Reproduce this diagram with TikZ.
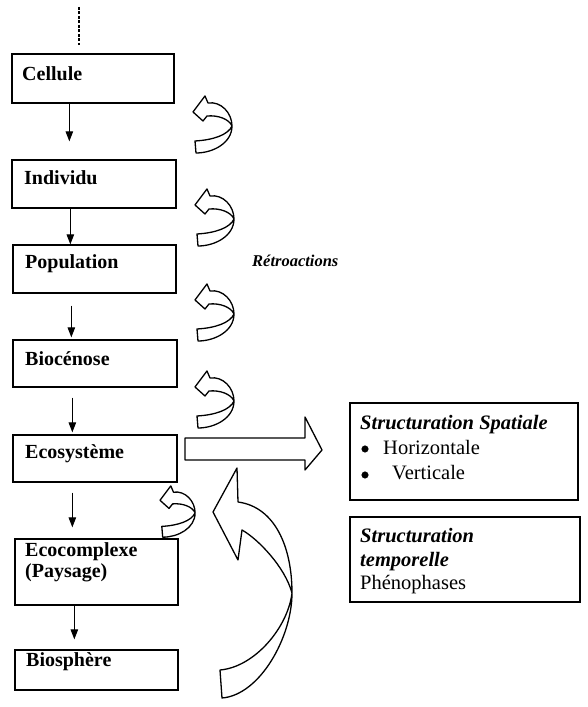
\documentclass[tikz,border=0pt]{standalone}
\usepackage{fontspec}
\setmainfont{Liberation Serif}
\usetikzlibrary{arrows.meta}
\begin{document}
\begin{tikzpicture}[x=1pt,y=1pt,
  box/.style={draw, line width=1.3pt, inner sep=0pt},
  lbl/.style={font=\fontsize{20}{24}\selectfont\bfseries, inner sep=0pt, anchor=base west},
  rtxt/.style={font=\fontsize{20.5}{24}\selectfont, inner sep=0pt, anchor=base west},
  bul/.style={circle, fill, draw, line width=0.5pt, inner sep=0pt, minimum size=6.5pt},
  rbtxt/.style={font=\fontsize{20.5}{24}\selectfont\bfseries\itshape, inner sep=0pt, anchor=base west},
  down/.style={line width=1pt, -{Triangle[width=7.5pt,length=10pt]}},
  blockarrow/.style={line width=1.3pt, fill=white, line join=round},
  retro/.pic={
    \draw[blockarrow] (-18,-16) .. controls (0,-15) and (15,-10) .. (19,-1)
      .. controls (16,6) and (5,10) .. (-6,9) -- (-10,4) -- (-20,13) -- (-8,29) -- (-5,22)
      .. controls (8,24) and (19,12) .. (19,-1)
      .. controls (19,-18) and (0,-28) .. (-17,-28) -- cycle;
  }]
\useasboundingbox (0,0) rectangle (588,707);

% boxes
\node[box, minimum width=162pt, minimum height=49pt] (cell) at (93,628.5) {};
\node[box, minimum width=164pt, minimum height=48pt] (ind) at (94,523) {};
\node[box, minimum width=163pt, minimum height=48pt] (pop) at (94.5,438) {};
\node[box, minimum width=164pt, minimum height=47pt] (bio) at (95,343.5) {};
\node[box, minimum width=164pt, minimum height=47pt] (eco) at (95,248.5) {};
\node[box, minimum width=163pt, minimum height=66pt] (ecx) at (96.5,135) {};
\node[box, minimum width=163pt, minimum height=40pt] (bsp) at (96.5,37) {};

% box labels
\node[lbl] (tcell) at (22,626) {Cellule};
\node[lbl] (tind) at (24,522) {Individu};
\node[lbl] (tpop) at (25,438) {Population};
\node[lbl] (tbio) at (25,341) {Biocénose};
\node[lbl] (teco) at (25,248) {Ecosystème};
\node[lbl] (tecx1) at (25,150) {Ecocomplexe};
\node[lbl] (tecx2) at (25,129) {(Paysage)};
\node[lbl] (tbsp) at (26,40) {Biosphère};

% dashed line on top
\coordinate (top) at (79,700);
\draw[line width=1.2pt, dash pattern=on 3pt off 1.5pt, shorten >=8pt] (top) -- (top |- cell.north);

% vertical arrows
\draw[down, shorten >=18pt] ([xshift=58pt]cell.south west) -- ([xshift=58pt]cell.south west |- ind.north);
\draw[down] ([xshift=59pt]ind.south west) -- ([xshift=59pt]ind.south west |- pop.north);
\draw[down, shorten <=12pt, shorten >=2pt] ([xshift=59pt]pop.south west) -- ([xshift=59pt]pop.south west |- bio.north);
\draw[down, shorten <=10pt, shorten >=2pt] ([xshift=60pt]bio.south west) -- ([xshift=60pt]bio.south west |- eco.north);
\draw[down, shorten <=10pt, shorten >=11pt] ([xshift=60pt]eco.south west) -- ([xshift=60pt]eco.south west |- ecx.north);
\draw[down, shorten >=10pt] ([xshift=60pt]ecx.south west) -- ([xshift=60pt]ecx.south west |- bsp.north);

% retroaction arrows
\pic at (213,582) {retro};
\pic at (215,489) {retro};
\pic at (215,394) {retro};
\pic at (215,307) {retro};
\pic[scale=0.9] at (178,195) {retro};

\node[font=\fontsize{16.5}{20}\selectfont\bfseries\itshape, inner sep=0pt, anchor=base west] (retro) at (252,440) {Rétroactions};

% big curved arrow
\draw[blockarrow] (220,37) .. controls (255,40) and (288,80) .. (292,114)
  .. controls (285,140) and (258,168) .. (242,177) -- (238,147) -- (213,195) -- (237,239) -- (238,205)
  .. controls (275,200) and (292,160) .. (292,114)
  .. controls (292,70) and (260,12) .. (222,9) -- cycle;

% wide right arrow
\draw[blockarrow] (185,269) -- (305,269) -- (305,290) -- (322,257) -- (305,237) -- (305,247) -- (185,247) -- cycle;

% right boxes
\node[box, minimum width=228pt, minimum height=97pt] (spa) at (464,255.5) {};
\node[rbtxt] (tspa) at (360,277) {Structuration Spatiale};
\node[bul] (b1) at (365,258) {};
\node[rtxt] (th) at (383,252) {Horizontale};
\node[bul] (b2) at (365,232) {};
\node[rtxt] (tv) at (392,227) {Verticale};

\node[box, minimum width=230pt, minimum height=85pt] (tem) at (465,147.5) {};
\node[rbtxt] (ttem1) at (360,164) {Structuration};
\node[rbtxt] (ttem2) at (360,140) {temporelle};
\node[rtxt] (ttem3) at (360,117) {Phénophases};
\end{tikzpicture}
\end{document}
